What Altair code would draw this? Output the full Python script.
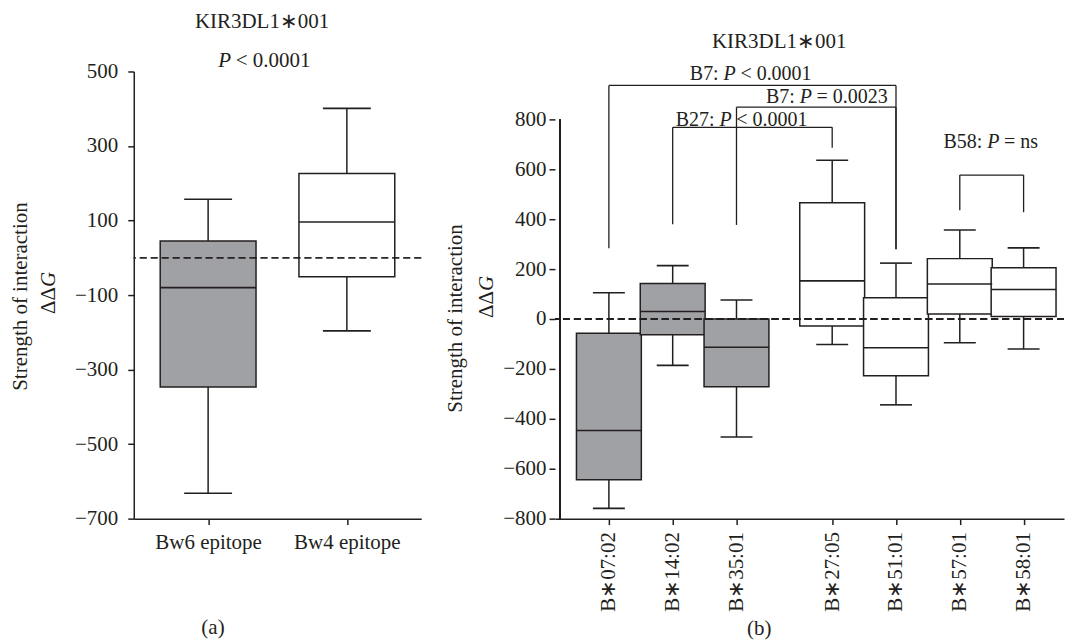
import json
import altair as alt
import pandas as pd

FONT = "Liberation Serif"
INK = "#231f20"
GRAY = "#a0a1a4"
FS = 21
FS_BR = 20

# ---------------- panel (a) data
a_groups = ["Bw6 epitope", "Bw4 epitope"]
a_epitope = ["Bw6", "Bw4"]
a_pos = [0, 1]
a_low = [-632, -196]
a_q1 = [-347, -51]
a_median = [-80, 96]
a_q3 = [45, 226]
a_high = [157, 401]
a_yticks = [-700, -500, -300, -100, 100, 300, 500]

# ---------------- panel (b) data
b_alleles = ["B∗07:02", "B∗14:02", "B∗35:01", "B∗27:05", "B∗51:01", "B∗57:01", "B∗58:01"]
b_epitope = ["Bw6", "Bw6", "Bw6", "Bw4", "Bw4", "Bw4", "Bw4"]
b_pos = [0, 1, 2, 3.5, 4.5, 5.5, 6.5]
b_low = [-759, -186, -473, -102, -344, -95, -120]
b_q1 = [-644, -63, -271, -28, -227, 20, 10]
b_median = [-447, 30, -113, 153, -115, 140, 118]
b_q3 = [-57, 142, 0, 466, 85, 242, 205]
b_high = [105, 214, 76, 636, 224, 357, 285]
b_yticks = [-800, -600, -400, -200, 0, 200, 400, 600, 800]

# significance brackets (panel b)
br_from = [0, 2, 1, 5.5]
br_to = [4.5, 4.5, 3.5, 6.5]
br_top = [936, 849, 768, 577]
br_from_end = [284, 377, 380, 436]
br_to_end = [280, 280, 686, 428]
br_prefix = ["B7: ", "B7: ", "B27: ", "B58: "]
br_stat = [" < 0.0001", " = 0.0023", " < 0.0001", " = ns"]
br_text_x = [2.216, 3.41, 2.075, 5.985]
br_text_y = [959, 865, 772, 684]

# annotations
title_text = "KIR3DL1∗001"
a_title_xy = (0.389, 617)
a_p_xy = (0.396, 513)
a_p_stat = " < 0.0001"
b_title_xy = (2.669, 1086)
a_caption_xy = (0.035, -1009)
b_caption_xy = (2.357, -1265)

# ---------------- layout
A_W, A_H = 288, 448
A_X = [-0.5, 1.5]
A_Y = [-700, 500]
B_PXU = 65.2
B_W, B_H = 510, 448
B_X = [-0.767, -0.767 + B_W / B_PXU]
B_Y = [-800, 992]
A_PXU = A_W / (A_X[1] - A_X[0])

TW = {" ": .25, "B": .667, "P": .611, ":": .278, "<": .564, "=": .564, ".": .25,
      "n": .5, "s": .389}


def tw(s, fs):
    return sum(TW.get(c, .5) for c in s) * fs


def split_label(prefix, stat, cx, y, pxu, fs):
    total = tw(prefix, fs) + tw("P", fs) + tw(stat, fs)
    anchor = -total / 2 + tw(prefix, fs)
    pre_s = prefix.rstrip()
    trail = tw(prefix[len(pre_s):], fs)
    stat_s = stat.lstrip()
    lead = tw(stat[: len(stat) - len(stat_s)], fs)
    pre = {"x": cx + (anchor - trail) / pxu, "y": y, "t": pre_s}
    p = {"x": cx + anchor / pxu, "y": y, "t": "P"}
    st = {"x": cx + (anchor + tw("P", fs) + lead) / pxu, "y": y, "t": stat_s}
    return pre, p, st


def make_axes(xdom, ydom, xaxis, yaxis):
    def X(field):
        return alt.X(field, type="quantitative",
                     scale=alt.Scale(domain=xdom, nice=False, zero=False), axis=xaxis)

    def Y(field):
        return alt.Y(field, type="quantitative",
                     scale=alt.Scale(domain=ydom, nice=False, zero=False), axis=yaxis)
    return X, Y


common_axis = dict(grid=False, labelFlush=False, labelOverlap=False, tickSize=6,
                   tickWidth=1.5, domainWidth=1.5, domainColor=INK, tickColor=INK,
                   labelColor=INK, labelFont=FONT, labelFontSize=FS,
                   titleFont=FONT, titleFontSize=FS, titleFontWeight="normal",
                   titleColor=INK)

fill_scale = alt.Scale(domain=["Bw6", "Bw4"], range=[GRAY, "white"])


def box_layers(df, X, Y, box_w, cap_w):
    whisk = alt.Chart(df).mark_rule(color=INK, strokeWidth=1.5).encode(
        x=X("pos"), y=Y("low"), y2="high")
    box = alt.Chart(df).mark_bar(size=box_w, orient="vertical", stroke=INK,
                                 strokeWidth=1.5).encode(
        x=X("pos"), y=Y("q1"), y2="q3",
        fill=alt.Fill("epitope:N", scale=fill_scale, legend=None))
    med = alt.Chart(df).mark_tick(orient="horizontal", size=box_w, thickness=1.6,
                                  color=INK, opacity=1).encode(x=X("pos"), y=Y("median"))
    cap_lo = alt.Chart(df).mark_tick(orient="horizontal", size=cap_w, thickness=1.6,
                                     color=INK, opacity=1).encode(x=X("pos"), y=Y("low"))
    cap_hi = alt.Chart(df).mark_tick(orient="horizontal", size=cap_w, thickness=1.6,
                                     color=INK, opacity=1).encode(x=X("pos"), y=Y("high"))
    return [whisk, box, med, cap_lo, cap_hi]


def text_layer(rows, X, Y, align="center", italic=False, fs=FS):
    return alt.Chart(pd.DataFrame(rows)).mark_text(
        font=FONT, fontSize=fs, color=INK, align=align, baseline="alphabetic",
        fontStyle="italic" if italic else "normal").encode(
        x=X("x"), y=Y("y"), text="t:N")


def pieces_layers(label_rows, X, Y, fs):
    pres = [r[0] for r in label_rows if r[0]["t"]]
    ps = [r[1] for r in label_rows]
    sts = [r[2] for r in label_rows]
    layers = []
    if pres:
        layers.append(text_layer(pres, X, Y, align="right", fs=fs))
    layers.append(text_layer(ps, X, Y, align="left", italic=True, fs=fs))
    layers.append(text_layer(sts, X, Y, align="left", fs=fs))
    return layers


def delta_g(xpx, ypx):
    base = alt.Chart(pd.DataFrame({"t": ["ΔΔ"]})).mark_text(
        font=FONT, fontSize=FS, color=INK, angle=270, align="right",
        baseline="alphabetic").encode(x=alt.value(xpx), y=alt.value(ypx), text="t:N")
    g = alt.Chart(pd.DataFrame({"t": ["G"]})).mark_text(
        font=FONT, fontSize=FS, color=INK, angle=270, align="left",
        baseline="alphabetic", fontStyle="italic").encode(
        x=alt.value(xpx), y=alt.value(ypx), text="t:N")
    return [base, g]


# ---------------- panel (a)
df_a = pd.DataFrame({"group": a_groups, "epitope": a_epitope, "pos": a_pos,
                     "low": a_low, "q1": a_q1, "median": a_median, "q3": a_q3,
                     "high": a_high})
a_lab_expr = f"{json.dumps(a_groups, ensure_ascii=False)}[indexof({json.dumps(a_pos)}, datum.value)]"
ax_a_x = alt.Axis(values=a_pos, labelExpr=a_lab_expr, title=None, labelAngle=0,
                  labelPadding=7, **common_axis)
ax_a_y = alt.Axis(values=a_yticks, title="Strength of interaction", titleX=-107,
                  titleY=225, titleAngle=270, titleAlign="center",
                  titleBaseline="alphabetic", labelPadding=10, **common_axis)
XA, YA = make_axes(A_X, A_Y, ax_a_x, ax_a_y)

zero_a = alt.Chart(df_a).mark_rule(color=INK, strokeWidth=1.2, strokeDash=[7, 4]).encode(
    y=alt.datum(0))
a_title = text_layer([{"x": a_title_xy[0], "y": a_title_xy[1], "t": title_text}], XA, YA)
a_p = pieces_layers([split_label("", a_p_stat, a_p_xy[0], a_p_xy[1], A_PXU, FS)],
                    XA, YA, FS)
a_cap = text_layer([{"x": a_caption_xy[0], "y": a_caption_xy[1], "t": "(a)"}], XA, YA)

panel_a = alt.layer(
    *box_layers(df_a, XA, YA, 96, 48), zero_a, a_title, *a_p, a_cap,
    *delta_g(-79, 216)
).properties(width=A_W, height=A_H)

# ---------------- panel (b)
df_b = pd.DataFrame({"group": b_alleles, "epitope": b_epitope, "pos": b_pos,
                     "low": b_low, "q1": b_q1, "median": b_median, "q3": b_q3,
                     "high": b_high})
b_lab_expr = f"{json.dumps(b_alleles, ensure_ascii=False)}[indexof({json.dumps(b_pos)}, datum.value)]"
ax_b_x = alt.Axis(values=b_pos, labelExpr=b_lab_expr, title=None, labelAngle=270,
                  labelAlign="right", labelBaseline="middle", labelPadding=7,
                  **common_axis)
ax_b_y = alt.Axis(values=b_yticks, domain=False, title="Strength of interaction",
                  titleX=-94, titleY=247, titleAngle=270, titleAlign="center",
                  titleBaseline="alphabetic", labelPadding=3, **common_axis)
XB, YB = make_axes(B_X, B_Y, ax_b_x, ax_b_y)

yline_b = alt.Chart(df_b).mark_rule(color=INK, strokeWidth=1.5).encode(
    x=alt.datum(B_X[0]), y=alt.datum(b_yticks[0]), y2=alt.datum(b_yticks[-1]))
zero_b = alt.Chart(df_b).mark_rule(color=INK, strokeWidth=1.2, strokeDash=[7, 4]).encode(
    y=alt.datum(0))

seg_rows = []
for f, t, top, fe, te in zip(br_from, br_to, br_top, br_from_end, br_to_end):
    seg_rows.append({"x": f, "x2": t, "y": top, "y2": top})
    seg_rows.append({"x": f, "x2": f, "y": fe, "y2": top})
    seg_rows.append({"x": t, "x2": t, "y": te, "y2": top})
brackets = alt.Chart(pd.DataFrame(seg_rows)).mark_rule(color=INK, strokeWidth=1.3).encode(
    x=XB("x"), x2="x2", y=YB("y"), y2="y2")

br_labels = pieces_layers(
    [split_label(pf, st, cx, cy, B_PXU, FS_BR)
     for pf, st, cx, cy in zip(br_prefix, br_stat, br_text_x, br_text_y)], XB, YB, FS_BR)
b_title = text_layer([{"x": b_title_xy[0], "y": b_title_xy[1], "t": title_text}], XB, YB)
b_cap = text_layer([{"x": b_caption_xy[0], "y": b_caption_xy[1], "t": "(b)"}], XB, YB)

panel_b = alt.layer(
    *box_layers(df_b, XB, YB, 65, 32), zero_b, yline_b, brackets, *br_labels,
    b_title, b_cap, *delta_g(-62, 220)
).properties(width=B_W, height=B_H)

chart = alt.hconcat(panel_a, panel_b, spacing=134, bounds="flush").properties(
    padding={"left": 2, "top": 2, "right": 0, "bottom": 0}
).configure_view(stroke=None)

chart.save("out.html", embed_options={"renderer": "svg", "actions": False})
